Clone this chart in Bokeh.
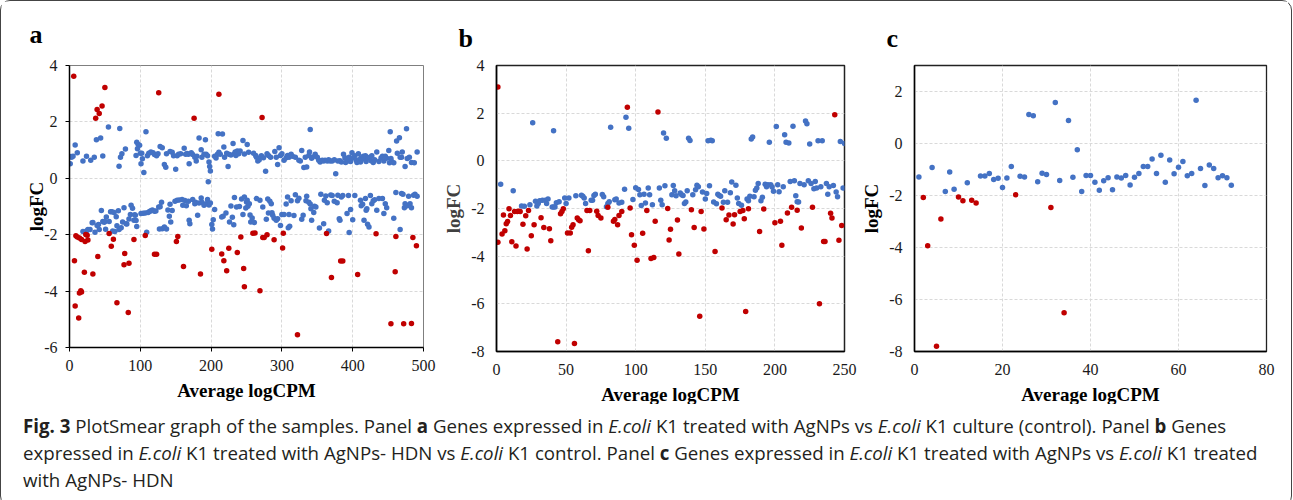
from bokeh.plotting import figure
from bokeh.models import FixedTicker, Div, PrintfTickFormatter
from bokeh.layouts import row, column
from bokeh.embed import file_html
from bokeh.resources import INLINE

# ---------------- data ----------------
# Panel a: AgNPs vs control  (x = Average logCPM, y = logFC)
A_BLUE = [(1,0.52),(2,0.77),(3,0.75),(5,0.78),(8,1.18),(11,0.91),(19,0.61),(24,0.78),(30,0.64),(35,0.75),
          (38,1.37),(44,1.43),(47,0.79),(55,1.82),(70,0.43),(71,1.77),(72,0.75),(74,0.87),(79,1.04),(94,0.81),
          (95,1.28),(97,1.20),(99,1.17),(96,1.05),(100,0.89),(102,0.89),(103,0.69),(101,0.52),(105,0.21),(108,1.65),
          (110,0.80),(112,0.89),(115,0.93),(118,0.91),(120,0.84),(123,0.80),(125,0.87),(128,1.13),(131,1.08),(134,0.49),
          (136,0.39),(137,0.87),(142,0.95),(145,0.92),(147,0.80),(150,0.32),(152,0.80),(154,0.85),(157,0.87),(162,1.07),
          (164,0.85),(166,0.88),(168,0.85),(169,0.52),(172,0.91),(174,0.84),(177,0.75),(179,0.61),(180,0.78),(183,1.43),
          (186,1.01),(187,0.75),(190,0.85),(192,1.37),(193,0.85),(195,0.80),(197,0.58),(198,0.42),(199,0.26),(196,-0.12),
          (205,0.78),(207,0.72),(209,0.85),(210,1.58),(211,0.92),(213,0.85),(216,1.57),(218,1.11),(219,0.75),(222,0.89),
          (224,0.42),(225,0.85),(228,0.83),(231,1.23),(233,0.87),(234,0.93),(235,0.81),(237,0.97),(239,0.87),(241,0.97),
          (245,1.34),(247,0.86),(251,1.20),(253,0.92),(260,0.89),(263,0.81),(264,0.75),(266,0.61),(268,0.66),(271,0.80),
          (274,0.73),(277,0.25),(279,0.87),(281,0.81),(284,0.75),(290,0.95),(292,0.75),(294,0.49),(296,1.08),(298,0.81),
          (300,0.87),(303,0.64),(306,0.73),(308,0.81),(310,0.75),(313,0.85),(315,0.78),(319,0.75),(324,0.64),(326,0.61),
          (328,0.99),(331,0.38),(333,0.75),(335,0.40),(338,0.81),(339,0.93),(340,1.73),(342,0.71),(343,0.75),(347,0.85),
          (350,0.75),(352,0.64),(354,0.58),(357,0.64),(359,0.61),(361,0.64),(364,0.61),(366,0.66),(368,0.61),(371,0.61),
          (374,0.66),(376,0.16),(379,0.61),(382,0.62),(384,0.58),(387,0.85),(389,0.73),(390,0.56),(393,0.61),(395,0.75),
          (397,0.60),(399,0.91),(401,0.73),(403,0.80),(405,0.64),(406,0.56),(408,0.87),(409,0.66),(411,0.58),(412,0.73),
          (415,0.78),(416,0.68),(418,0.80),(419,0.60),(422,0.72),(424,0.75),(426,0.62),(427,0.80),(429,0.56),(431,0.66),
          (434,0.93),(437,0.60),(440,0.72),(442,0.78),(444,0.61),(446,0.78),(448,0.71),(451,0.99),(452,0.55),(453,1.65),
          (454,0.70),(455,0.60),(458,0.55),(462,1.32),(463,0.89),(466,1.44),(467,0.75),(469,0.75),(470,0.93),(474,0.42),
          (476,1.76),(477,0.70),(480,0.75),(483,0.56),(487,0.55),(491,0.93),
          (19,-1.89),(24,-1.87),(26,-1.82),(29,-1.82),(32,-1.58),(33,-1.57),(36,-1.91),(39,-1.67),(41,-1.64),(42,-1.82),
          (45,-1.14),(47,-1.53),(49,-1.56),(50,-1.53),(51,-1.81),(52,-1.37),(56,-1.53),(58,-1.19),(60,-1.19),(63,-1.21),
          (61,-1.87),(64,-1.89),(66,-1.36),(67,-1.68),(69,-1.15),(70,-1.82),(73,-1.75),(75,-1.55),(77,-1.04),(80,-1.61),
          (81,-1.62),(84,-1.44),(86,-1.28),(87,-0.96),(89,-1.06),(91,-1.49),(94,-1.50),(92,-1.29),(93,-1.31),(95,-1.71),
          (101,-1.25),(104,-1.24),(107,-1.23),(109,-1.91),(111,-1.21),(113,-1.18),(115,-1.15),(117,-1.12),(120,-1.17),(122,-1.16),
          (126,-1.02),(127,-1.80),(128,-1.01),(130,-0.85),(131,-1.79),(134,-1.73),(137,-1.80),(139,-1.12),(141,-1.35),(142,-0.92),
          (143,-1.55),(145,-1.14),(149,-0.81),(152,-0.78),(155,-0.77),(159,-0.75),(160,-0.96),(163,-0.79),(165,-0.97),(168,-0.81),
          (169,-1.49),(170,-1.61),(174,-0.75),(177,-0.90),(178,-0.85),(181,-1.31),(183,-0.88),(186,-0.70),(187,-0.85),(190,-0.96),
          (193,-0.90),(195,-0.75),(197,-0.95),(199,-0.88),(201,-1.64),(202,-1.80),(203,-1.47),(205,-1.11),(215,-1.37),(217,-1.35),
          (221,-1.23),(226,-1.55),(228,-0.98),(230,-1.38),(232,-1.65),(233,-0.68),(236,-1.02),(240,-1.00),(243,-0.73),(245,-1.28),
          (247,-0.66),(249,-1.05),(250,-0.84),(251,-0.78),(252,-0.99),(254,-0.90),(255,-1.30),(256,-1.55),(258,-1.41),(261,-1.57),
          (264,-0.72),(269,-0.78),(273,-1.02),(278,-1.45),(280,-0.73),(281,-1.23),(283,-0.81),(285,-0.90),(286,-1.22),(287,-1.31),
          (289,-1.42),(292,-1.49),(294,-1.43),(298,-1.67),(300,-1.28),(303,-1.28),(306,-0.91),(308,-0.66),(309,-1.75),(310,-1.28),
          (311,-1.70),(313,-0.80),(317,-1.32),(319,-0.58),(322,-0.80),(324,-0.71),(328,-1.45),(330,-1.31),(334,-0.80),(335,-0.64),
          (338,-0.85),(340,-0.91),(341,-1.08),(342,-1.49),(345,-1.21),(346,-0.99),(348,-1.02),(353,-1.76),(355,-0.57),(359,-1.61),
          (360,-0.78),(362,-0.63),(364,-0.87),(366,-1.87),(369,-0.59),(371,-0.61),(374,-0.81),(378,-0.87),(379,-0.60),(381,-1.43),
          (382,-1.49),(384,-0.66),(386,-0.61),(392,-1.25),(394,-0.61),(395,-1.92),(397,-1.11),(400,-1.47),(403,-0.61),(411,-0.78),
          (412,-0.97),(414,-0.92),(416,-1.49),(418,-0.72),(419,-1.13),(420,-1.08),(421,-1.63),(423,-1.73),(425,-0.61),(427,-0.90),
          (429,-0.80),(431,-0.76),(434,-1.13),(437,-0.72),(442,-0.72),(444,-1.25),(446,-0.90),(448,-1.04),(458,-1.42),(461,-0.50),
          (467,-1.82),(469,-0.54),(471,-0.57),(473,-1.04),(474,-0.90),(477,-0.97),(479,-0.64),(481,-0.90),(483,-1.04),(486,-0.60),
          (488,-0.57),(491,-0.64)]
A_RED = [(6,3.62),(7,-2.92),(8,-4.53),(9,-2.04),(11,-2.08),(13,-4.95),(14,-2.12),(14,-4.07),(16,-3.99),(17,-4.03),
         (17,-2.17),(21,-3.33),(22,-2.24),(23,-1.99),(25,-2.02),(26,-2.19),(33,-3.39),(37,2.13),(39,2.44),(40,-2.77),
         (42,2.30),(46,2.56),(50,3.22),(56,-1.96),(59,-2.41),(62,-2.16),(67,-4.41),(78,-2.67),(77,-3.07),(83,-4.76),
         (84,-3.01),(91,-2.17),(107,-2.03),(120,-2.69),(123,-2.69),(126,3.03),(151,-2.24),(153,-2.06),(161,-3.13),(176,2.13),
         (185,-3.39),(201,-2.52),(211,2.98),(215,-2.68),(218,-2.92),(222,-3.28),(225,-2.48),(237,-2.63),(242,-2.08),(246,-3.20),
         (247,-3.85),(259,-1.95),(262,-1.94),(269,-3.99),(272,2.16),(273,-2.10),(275,-2.10),(279,-2.00),(289,-2.18),(301,-2.47),
         (302,-1.95),(322,-5.55),(363,-1.96),(370,-3.52),(383,-2.93),(386,-2.93),(407,-3.41),(433,-1.97),(454,-5.16),(460,-3.31),
         (461,-2.06),(472,-5.16),(483,-5.15),(485,-2.10),(490,-2.39)]

# Panel b: AgNPs-HDN vs control
B_BLUE = [(3,-0.98),(12,-1.26),(26,1.60),(41,1.26),(18,-1.89),(20,-1.91),(24,-1.84),(28,-1.70),(29,-1.89),(30,-1.79),
          (31,-1.67),(33,-1.65),(35,-1.65),(36,-1.79),(37,-1.60),(40,-1.94),(41,-1.94),(42,-1.94),(43,-1.76),(45,-1.72),
          (49,-1.56),(50,-1.79),(52,-1.56),(57,-1.47),(61,-1.44),(62,-1.49),(63,-1.56),(64,-1.79),(68,-1.65),(69,-1.65),
          (70,-1.45),(71,-1.40),(76,-1.41),(77,-1.51),(79,-1.93),(80,-1.79),(81,-1.72),(82,1.41),(85,-1.63),(86,-1.60),
          (88,-1.77),(90,-1.74),(92,-1.19),(93,1.83),(95,1.37),(98,-1.62),(100,-1.13),(102,-1.20),(103,-1.42),(104,-1.87),
          (106,-1.40),(107,-1.77),(109,-1.14),(110,-1.42),(112,-1.84),(117,-1.14),(118,-1.65),(119,-1.84),(120,1.17),(122,0.95),
          (121,-1.05),(126,-1.42),(127,-1.03),(128,-1.26),(129,-1.47),(132,-1.35),(133,-1.42),(134,-1.45),(135,-1.79),(136,-1.73),
          (137,-1.26),(138,0.95),(139,0.85),(141,-1.42),(143,-1.21),(144,-1.02),(145,-1.09),(148,-1.31),(150,-1.60),(151,-1.37),
          (153,-1.05),(152,0.84),(154,0.86),(155,0.84),(156,-1.73),(158,-1.80),(159,-1.40),(160,-1.45),(161,-1.49),(163,-1.74),
          (164,-1.26),(166,-1.74),(168,-1.34),(169,-0.89),(172,-1.02),(173,-1.56),(174,-1.79),(176,-1.86),(180,-1.60),(181,-1.67),
          (182,-1.49),(183,0.92),(184,1.00),(185,-1.51),(186,-1.23),(187,-1.14),(188,-0.95),(190,-1.67),(191,-1.53),(193,-0.98),
          (194,-1.09),(195,-1.00),(196,0.78),(197,-1.00),(198,-1.10),(199,-1.28),(201,1.44),(202,-1.00),(203,-1.30),(206,-1.09),
          (207,1.09),(208,0.78),(210,0.75),(211,-0.87),(213,1.45),(214,-0.84),(215,-1.47),(216,-1.72),(217,-1.73),(218,-0.95),
          (221,-1.00),(222,1.67),(223,1.56),(224,-0.84),(225,0.71),(226,-0.95),(228,-1.17),(229,-0.87),(231,0.84),(234,0.84),
          (230,-1.14),(233,-1.09),(237,-0.95),(238,-1.40),(239,-1.09),(242,-1.03),(244,-1.31),(245,-1.51),(247,0.81),(250,0.73),
          (249,-1.14)]
B_RED = [(1,3.10),(1,-3.42),(4,-3.07),(5,-2.27),(6,-2.93),(7,-2.64),(8,-2.55),(9,-2.01),(10,-2.29),(11,-3.40),
         (13,-2.13),(14,-3.57),(15,-2.13),(16,-2.12),(17,-2.13),(19,-2.66),(21,-2.30),(22,-3.70),(23,-2.08),(25,-3.14),
         (27,-2.68),(32,-2.39),(34,-2.80),(38,-2.85),(39,-3.35),(44,-7.59),(46,-2.22),(47,-2.13),(48,-2.01),(51,-3.03),
         (53,-3.03),(54,-2.79),(55,-2.68),(56,-7.66),(58,-2.40),(59,-2.47),(60,-2.51),(65,-2.08),(66,-3.77),(67,-2.08),
         (72,-2.12),(73,-2.29),(75,-2.40),(80,-1.95),(84,-2.54),(85,-2.46),(87,-2.68),(88,-2.29),(90,-2.13),(94,2.25),
         (96,-1.98),(97,-3.10),(99,-3.54),(101,-4.17),(105,-3.04),(108,-2.08),(111,-4.10),(113,-4.06),(114,-2.53),(116,2.05),
         (123,-2.00),(124,-3.32),(125,-2.87),(130,-2.48),(131,-3.91),(140,-2.05),(142,-2.80),(146,-6.52),(147,-2.13),(149,-2.86),
         (157,-3.80),(162,-1.98),(165,-2.47),(167,-2.27),(170,-2.65),(171,-2.26),(175,-2.13),(177,-2.08),(178,-2.43),(179,-6.32),
         (181,-2.01),(189,-2.96),(192,-2.02),(200,-2.60),(204,-2.54),(205,-3.54),(209,-2.19),(212,-1.95),(216,-2.07),(219,-2.82),
         (227,-1.95),(232,-6.00),(235,-3.38),(236,-3.38),(240,-2.20),(241,-2.40),(243,1.93),(246,-3.33),(248,-2.71)]

# Panel c: AgNPs vs AgNPs-HDN
C_BLUE = [(1,-1.29),(4,-0.92),(7,-1.85),(8,-1.10),(9,-1.76),(12,-1.51),(15,-1.25),(16,-1.25),(17,-1.15),(18,-1.38),
          (19,-1.34),(20,-1.69),(21,-1.33),(22,-0.88),(24,-1.26),(25,-1.29),(26,1.12),(27,1.07),(28,-1.47),(29,-1.14),
          (30,-1.19),(32,1.58),(33,-1.42),(35,0.88),(36,-1.30),(37,-0.24),(38,-1.85),(39,-1.23),(40,-1.23),(41,-1.49),
          (42,-1.80),(43,-1.43),(44,-1.32),(45,-1.78),(46,-1.29),(47,-1.33),(48,-1.23),(49,-1.60),(50,-1.30),(51,-1.15),
          (52,-0.88),(53,-0.88),(54,-0.60),(55,-1.15),(56,-0.45),(57,-1.49),(58,-0.63),(59,-1.16),(60,-0.91),(61,-0.69),
          (62,-1.24),(63,-1.15),(64,1.66),(65,-0.96),(66,-1.62),(67,-0.83),(68,-0.96),(69,-1.32),(70,-1.24),(71,-1.32),
          (72,-1.61)]
C_RED = [(2,-2.08),(3,-3.93),(5,-7.80),(6,-2.90),(10,-2.06),(11,-2.20),(13,-2.18),(14,-2.29),(23,-1.97),(31,-2.46),
         (34,-6.51)]

A_XTICKS = [0, 100, 200, 300, 400, 500]
A_YTICKS = [-6, -4, -2, 0, 2, 4]
B_XTICKS = [0, 50, 100, 150, 200, 250]
B_YTICKS = [-8, -6, -4, -2, 0, 2, 4]
C_XTICKS = [0, 20, 40, 60, 80]
C_YTICKS = [-8, -6, -4, -2, 0, 2]

PANEL_LABELS = ["a", "b", "c"]
X_TITLE = "Average logCPM"
Y_TITLE = "logFC"

BLUE = "#4472C4"
RED = "#C00000"
SERIF = "Liberation Serif"


def panel(label, xr, yr, xt, yt, blue, red, fw, fh, bl, br, bt, bb,
          tick_out, outline_color, outline_w, ylab_color, toff, tstand, ystand):
    p = figure(x_range=xr, y_range=yr, frame_width=fw, frame_height=fh,
               min_border_left=bl, min_border_right=br, min_border_top=bt, min_border_bottom=bb,
               output_backend="svg", toolbar_location=None)
    p.title.text = label
    p.title.text_font = SERIF
    p.title.text_font_size = "26px"
    p.title.text_font_style = "bold"
    p.title.text_color = "black"
    p.title.align = "left"
    p.title.offset = toff
    p.title.standoff = tstand
    p.outline_line_color = outline_color
    p.outline_line_width = outline_w
    p.xaxis.ticker = FixedTicker(ticks=xt)
    p.yaxis.ticker = FixedTicker(ticks=yt)
    p.xaxis.formatter = PrintfTickFormatter(format="%d")
    p.yaxis.formatter = PrintfTickFormatter(format="%d")
    p.axis.major_label_text_font = SERIF
    p.axis.major_label_text_font_size = "16px"
    p.axis.major_label_text_color = "#1a1a1a"
    p.axis.axis_label_text_font = SERIF
    p.axis.axis_label_text_font_size = "19px"
    p.axis.axis_label_text_font_style = "bold"
    p.axis.axis_line_color = "black"
    p.axis.axis_line_width = 1.5
    p.axis.major_tick_out = tick_out
    p.axis.major_tick_in = 0
    p.axis.major_tick_line_color = "black"
    p.axis.minor_tick_line_color = None
    p.xaxis.axis_label = X_TITLE
    p.xaxis.axis_label_text_color = "black"
    p.xaxis.major_label_standoff = 12 - tick_out
    p.xaxis.axis_label_standoff = 6
    p.yaxis.axis_label = Y_TITLE
    p.yaxis.axis_label_text_color = ylab_color
    p.yaxis.major_label_standoff = 12 - tick_out
    p.yaxis.axis_label_standoff = ystand
    p.grid.grid_line_color = "#d9d9d9"
    p.grid.grid_line_dash = "3 2"
    p.grid.grid_line_width = 1
    p.scatter([v[0] for v in blue], [v[1] for v in blue], size=5.5, color=BLUE, line_color=None)
    p.scatter([v[0] for v in red], [v[1] for v in red], size=5.5, color=RED, line_color=None)
    return p


pa = panel(PANEL_LABELS[0], (0, 500), (-6, 4), A_XTICKS, A_YTICKS, A_BLUE, A_RED,
           354, 282, 68, 17, 62, 56, 4, "#7f7f7f", 1, "black", -40, 33, -6)
pb = panel(PANEL_LABELS[1], (0, 250), (-8, 4), B_XTICKS, B_YTICKS, B_BLUE, B_RED,
           348, 286, 50, 14, 61, 56, 0, "#222222", 1.5, "#404040", -38, 25, 4)
pc = panel(PANEL_LABELS[2], (0, 80), (-8, 3), C_XTICKS, C_YTICKS, C_BLUE, C_RED,
           352, 286, 45, 22, 61, 56, 0, "#222222", 1.3, "black", -28, 26, 4)

caption = ('<b>Fig. 3</b> PlotSmear graph of the samples. Panel <b>a</b> Genes expressed in <i>E.coli</i> K1 '
           'treated with AgNPs vs <i>E.coli</i> K1 culture (control). Panel <b>b</b> Genes<br>'
           'expressed in <i>E.coli</i> K1 treated with AgNPs- HDN vs <i>E.coli</i> K1 control. Panel <b>c</b> '
           'Genes expressed in <i>E.coli</i> K1 treated with AgNPs vs <i>E.coli</i> K1 treated<br>'
           'with AgNPs- HDN')
div = Div(text=caption, width=1280, height=91,
          styles={"font-family": "'Open Sans', sans-serif", "font-size": "18.7px", "line-height": "27px",
                  "color": "#231f20", "padding": "3px 0px 0px 17px", "white-space": "nowrap"})

layout = column(row(pa, pb, pc), div,
                styles={"border": "1px solid #444", "border-radius": "10px", "background": "white"})

open("out.html", "w").write(file_html(layout, INLINE))
